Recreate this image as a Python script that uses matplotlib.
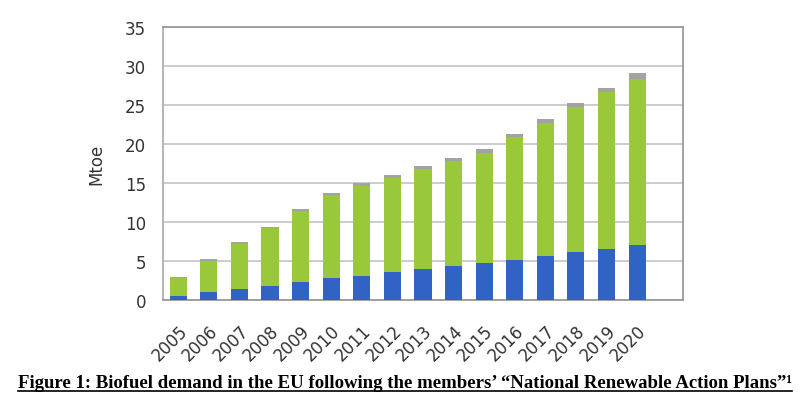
import numpy as np
import matplotlib
matplotlib.use('Agg')
import matplotlib.pyplot as plt
from matplotlib.lines import Line2D

years = ['2005', '2006', '2007', '2008', '2009', '2010', '2011', '2012',
         '2013', '2014', '2015', '2016', '2017', '2018', '2019', '2020']
# (Mtoe)
blue = [0.5, 1.0, 1.4, 1.85, 2.35, 2.8, 3.1, 3.6, 3.95, 4.35, 4.75, 5.15, 5.6, 6.1, 6.55, 7.05]
total = [2.95, 5.2, 7.4, 9.4, 11.65, 13.75, 14.95, 16.0, 17.2, 18.2, 19.3, 21.3, 23.2, 25.25, 27.2, 29.1]
grey = [0.1, 0.15, 0.2, 0.2, 0.25, 0.25, 0.3, 0.3, 0.35, 0.35, 0.4, 0.4, 0.45, 0.5, 0.55, 0.75]
green = [t - b - g for t, b, g in zip(total, blue, grey)]

x = np.arange(len(years))
w = 0.56

fig = plt.figure(figsize=(8.1, 4.14), dpi=100)
ax = fig.add_axes([0.2012, 0.2729, 0.642, 0.6595])

ax.bar(x, blue, w, color='#3163c4', zorder=3)
ax.bar(x, green, w, bottom=blue, color='#99c93a', zorder=3)
ax.bar(x, grey, w, bottom=np.array(blue) + np.array(green), color='#a3a3a3', zorder=3)

ax.set_xlim(-0.5, len(years) + 0.5)
ax.set_ylim(0, 35)
ax.set_yticks(range(0, 36, 5))
ax.yaxis.grid(True, color='#c4c4c4', linewidth=1.2, zorder=0)
ax.set_xticks(x)
ax.set_xticklabels(years, rotation=45, ha='right', rotation_mode='anchor')
ax.tick_params(length=0, labelsize=12, colors='#333333')
ax.tick_params(axis='y', pad=12)
ax.tick_params(axis='x', pad=15)
for s in ax.spines.values():
    s.set_color('#9a9a9a')
    s.set_linewidth(1.3)
ax.spines['left'].set_color('#b0b0b0')
ax.set_ylabel('Mtoe', fontsize=12, color='#333333', labelpad=14)

cap = fig.text(0.5, 0.0628,
               'Figure 1: Biofuel demand in the EU following the members\u2019 \u201cNational Renewable Action Plans\u201d\u00b9',
               ha='center', va='baseline', fontsize=13.5, fontweight='bold',
               family=['Liberation Serif', 'DejaVu Serif'])
fig.canvas.draw()
bb = cap.get_window_extent().transformed(fig.transFigure.inverted())
fig.add_artist(Line2D([bb.x0, bb.x1], [0.052, 0.052], color='black',
                      linewidth=1.2, transform=fig.transFigure))

fig.savefig('out.png', dpi=100)
